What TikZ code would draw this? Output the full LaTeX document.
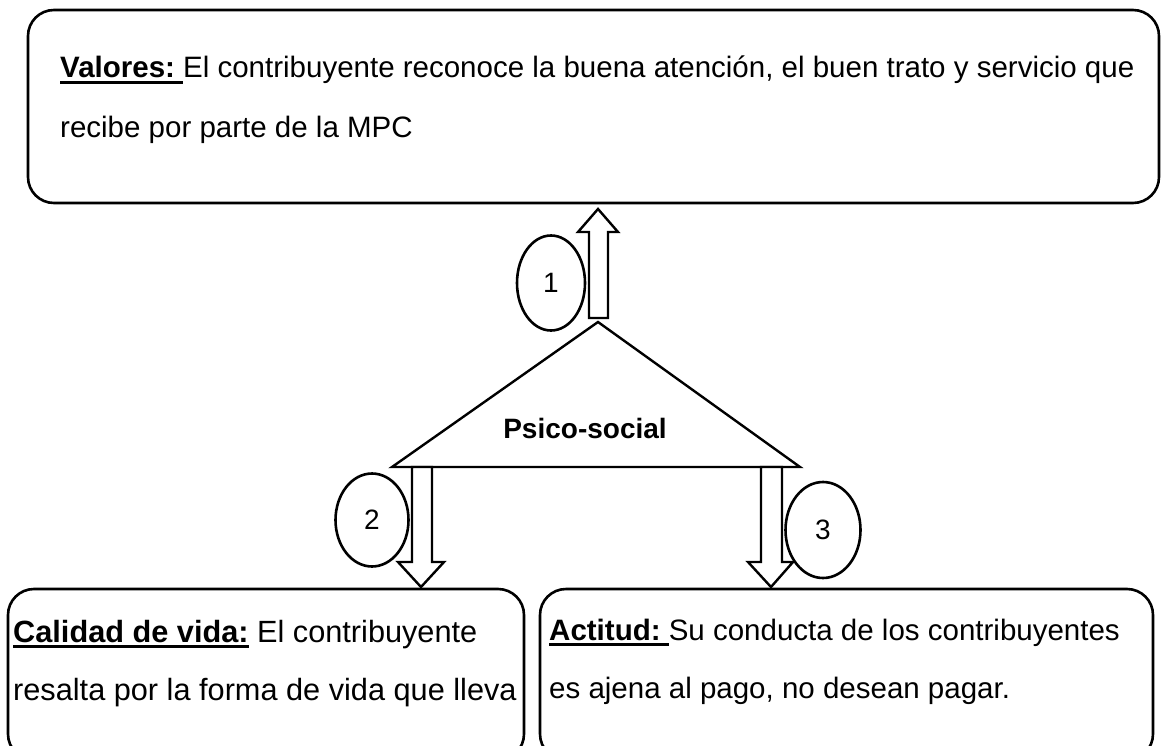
\documentclass[tikz,border=0pt]{standalone}
\usepackage{fontspec}
\setmainfont{Liberation Sans}
\usetikzlibrary{shapes.geometric}
\newcommand\myul[1]{\setbox0\hbox{#1}\rlap{\rule[-6pt]{\wd0}{2.6pt}}\box0}
\tikzset{
  boxst/.style={draw, line width=2.6pt, rounded corners=26pt},
  arrowst/.style={draw, line width=2.4pt, fill=white},
  circst/.style={draw, line width=2.6pt, ellipse, fill=white, inner sep=0pt, font=\fontsize{28}{28}\selectfont},
  linest/.style={anchor=base west, inner sep=0pt, font=\fontsize{29.5}{30}\selectfont},
  linebig/.style={linest, font=\fontsize{30.7}{31}\selectfont},
}
\begin{document}
\begin{tikzpicture}[x=1pt,y=-1pt]
\useasboundingbox (0,0) rectangle (1161,746);
% boxes
\draw[boxst] (28,10) rectangle (1159,203);
\draw[boxst] (8,589) rectangle (524,760);
\draw[boxst] (540,589) rectangle (1153,760);
\node[linest] (v1) at (60,78) {{\bfseries\myul{Valores:\ }}El contribuyente reconoce la buena atención, el buen trato y servicio que};
\node[linest] (v2) at (60,138) {recibe por parte de la MPC};
\node[linebig] (c1) at (13,642) {{\bfseries\myul{Calidad de vida:}}\ El contribuyente};
\node[linebig] (c2) at (13,700) {resalta por la forma de vida que lleva};
\node[linest] (a1) at (549,640) {{\bfseries\myul{Actitud:\ }}Su conducta de los contribuyentes};
\node[linest] (a2) at (549,698) {es ajena al pago, no desean pagar.};
% triangle
\draw[line width=2.4pt, line join=miter] (598,322) -- (800,467) -- (392,467) -- cycle;
\node[font=\bfseries\fontsize{28}{28}\selectfont, inner sep=0pt] (ps) at (585,428) {Psico-social};
% arrows
\draw[arrowst] (589,318) -- (589,232) -- (578,232) -- (598,209) -- (618,232) -- (608,232) -- (608,318) -- cycle;
\draw[arrowst] (412,467) -- (412,562) -- (398,562) -- (421,587) -- (444,562) -- (432,562) -- (432,467) -- cycle;
\draw[arrowst] (761,467) -- (761,562) -- (748,562) -- (771,587) -- (793,562) -- (782,562) -- (782,467) -- cycle;
% circles
\node[circst, minimum width=68pt, minimum height=95pt] (n1) at (551,283) {1};
\node[circst, minimum width=73pt, minimum height=93pt] (n2) at (372,520) {2};
\node[circst, minimum width=75pt, minimum height=96pt] (n3) at (823,530) {3};
\end{tikzpicture}
\end{document}
